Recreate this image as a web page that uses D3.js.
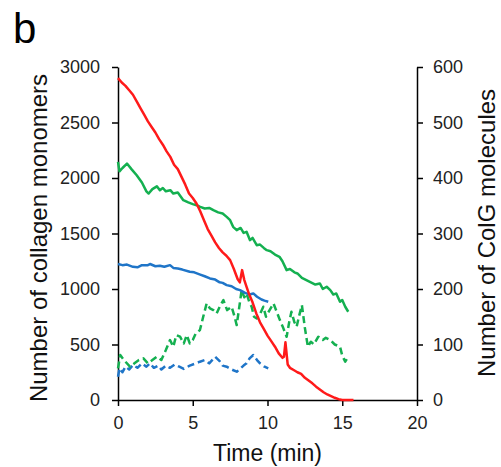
<!DOCTYPE html>
<html><head><meta charset="utf-8">
<script src="https://cdn.jsdelivr.net/npm/d3@7"></script>
<style>body{margin:0;background:#fff}svg{display:block}text{font-family:"Liberation Sans",Arial,sans-serif}</style>
</head><body><svg id="c" width="501" height="467"></svg>
<script>
// Red: collagen monomers (left axis)
const redTime  = [0,0.25,0.5,0.75,1,1.25,1.5,1.75,2,2.25,2.5,2.75,3,3.25,3.5,3.75,4,4.25,4.5,4.75,5,5.25,5.5,5.75,6,6.25,6.5,6.75,7,7.25,7.5,7.75,8,8.15,8.3,8.45,8.6,8.75,9,9.25,9.5,9.75,10,10.25,10.5,10.75,11,11.1,11.2,11.35,11.5,11.75,12,12.25,12.5,12.75,13,13.25,13.5,13.75,14,14.25,14.5,14.75,15,15.25,15.5,15.75];
const redValue = [2900,2860,2830,2790,2750,2690,2630,2570,2510,2460,2410,2350,2300,2240,2190,2120,2080,2010,1940,1860,1820,1770,1700,1620,1540,1480,1420,1370,1330,1300,1260,1180,1090,1060,1170,1080,1020,960,880,780,700,640,580,530,480,420,380,390,520,320,290,270,250,235,200,175,150,120,95,70,50,35,20,8,0,0,0,0];
// Green solid (left axis)
const greenTime  = [0,0.1,0.3,0.6,0.9,1.25,1.6,1.9,2.05,2.3,2.6,2.8,3,3.2,3.5,3.7,4,4.37,4.7,5,5.26,5.5,5.8,6.1,6.38,6.7,7,7.27,7.5,7.7,7.94,8.2,8.4,8.6,8.83,9,9.28,9.5,9.75,9.95,10.2,10.5,10.8,11,11.28,11.5,11.8,12,12.3,12.6,12.9,13.2,13.5,13.7,13.96,14.2,14.4,14.6,14.85,15,15.2,15.4];
const greenValue = [2145,2060,2090,2130,2080,2025,1960,1880,1860,1900,1925,1890,1910,1880,1890,1860,1870,1800,1780,1765,1755,1740,1725,1730,1710,1690,1680,1650,1620,1560,1530,1550,1505,1515,1440,1460,1395,1400,1370,1350,1340,1310,1290,1250,1170,1180,1150,1140,1100,1080,1060,1040,1050,1000,1020,990,950,960,885,900,840,795];
// Blue solid (left axis)
const blueTime  = [0,0.3,0.6,1,1.3,1.6,2,2.14,2.5,2.8,3.1,3.48,3.7,4,4.3,4.8,5.1,5.5,5.8,6.15,6.5,6.8,7,7.27,7.6,7.9,8.16,8.5,8.8,9.05,9.3,9.6,9.8,10.05];
const blueValue = [1225,1215,1220,1200,1195,1215,1215,1225,1205,1210,1200,1215,1190,1185,1175,1155,1150,1130,1115,1095,1085,1060,1055,1035,1025,1000,990,965,950,960,930,905,895,885];
// Green dashed: ColG molecules (right axis)
const greenColGTime  = [0,0.15,0.4,0.8,1.1,1.4,1.7,2,2.3,2.6,2.9,3.2,3.48,3.7,3.9,4.15,4.4,4.6,4.8,5,5.2,5.48,5.7,5.93,6.15,6.38,6.6,6.8,7.05,7.3,7.6,7.8,7.94,8.1,8.27,8.45,8.6,8.8,8.94,9.1,9.28,9.5,9.72,9.9,10.1,10.4,10.6,10.83,11.05,11.28,11.45,11.6,11.8,11.95,12.1,12.3,12.5,12.7,12.9,13.1,13.4,13.7,13.9,14.2,14.5,14.85,15,15.2,15.4];
const greenColGValue = [57,81,72,60,66,72,75,66,72,78,72,90,108,96,117,114,102,117,102,108,120,126,150,174,165,162,156,168,180,162,168,150,135,165,198,185,192,175,168,150,147,155,168,150,160,174,160,144,130,114,140,159,140,132,150,171,130,96,105,100,114,108,112,108,100,96,80,69,78];
// Blue dashed: ColG molecules (right axis)
const blueColGTime  = [0,0.1,0.3,0.5,0.75,1,1.3,1.6,1.9,2.14,2.4,2.7,2.9,3.2,3.48,3.8,4.1,4.4,4.8,5.1,5.48,5.8,6.1,6.5,6.8,7,7.27,7.6,7.94,8.2,8.4,8.6,8.8,9.05,9.3,9.5,9.8,10.05];
const blueColGValue = [42,57,50,60,55,63,58,66,60,66,58,62,55,62,58,64,60,56,62,65,69,72,66,78,70,62,60,55,51,57,62,66,75,81,72,66,60,57];

const xTicks = [0,5,10,15,20];
const leftTicks = [0,500,1000,1500,2000,2500,3000];
const rightTicks = [0,100,200,300,400,500,600];

const svg = d3.select("#c");
const L = 118, R = 417, T = 67, B = 400;
const x = d3.scaleLinear().domain([0,20]).range([L,R]);
const yL = d3.scaleLinear().domain([0,3000]).range([B,T]);
const yR = d3.scaleLinear().domain([0,600]).range([B,T]);
const fmt = d3.format("d");

function styleAxis(g){
  g.selectAll("path").attr("stroke","#000").attr("stroke-width",1.5);
  g.selectAll("line").attr("stroke","#000").attr("stroke-width",1.5);
  g.selectAll("text").attr("font-size",18).attr("fill","#222").attr("font-family","'Liberation Sans',Arial,sans-serif");
}
svg.append("g").attr("transform",`translate(0,${B})`)
  .call(d3.axisBottom(x).tickValues(xTicks).tickFormat(fmt).tickSize(6).tickSizeOuter(0).tickPadding(10)).call(styleAxis);
svg.append("g").attr("transform",`translate(${L},0)`)
  .call(d3.axisLeft(yL).tickValues(leftTicks).tickFormat(fmt).tickSize(6).tickSizeOuter(0).tickPadding(12)).call(styleAxis);
svg.append("g").attr("transform",`translate(${R},0)`)
  .call(d3.axisRight(yR).tickValues(rightTicks).tickFormat(fmt).tickSize(6).tickSizeOuter(0).tickPadding(10)).call(styleAxis);

function draw(times, vals, y, color, dash){
  const data = times.map((t,i)=>[t,vals[i]]);
  svg.append("path").datum(data)
    .attr("fill","none").attr("stroke",color).attr("stroke-width",2.5)
    .attr("stroke-linejoin","round")
    .attr("stroke-dasharray",dash||null)
    .attr("d",d3.line().x(d=>x(d[0])).y(d=>y(d[1])));
}
draw(blueColGTime, blueColGValue, yR, "#1f75c8", "7,4");
draw(greenColGTime, greenColGValue, yR, "#14b050", "7,4");
draw(blueTime, blueValue, yL, "#1f75c8");
draw(greenTime, greenValue, yL, "#14b050");
draw(redTime, redValue, yL, "#ff1a1a");

svg.append("text").attr("x",267.5).attr("y",461).attr("text-anchor","middle").attr("font-size",23).attr("fill","#111").text("Time (min)");
svg.append("text").attr("transform","translate(47,238) rotate(-90)").attr("text-anchor","middle").attr("font-size",24).attr("fill","#111").text("Number of collagen monomers");
svg.append("text").attr("transform","translate(495,233) rotate(-90)").attr("text-anchor","middle").attr("font-size",24).attr("fill","#111").text("Number of ColG molecules");
svg.append("text").attr("x",13).attr("y",43).attr("font-size",42).attr("fill","#000").text("b");
</script></body></html>
